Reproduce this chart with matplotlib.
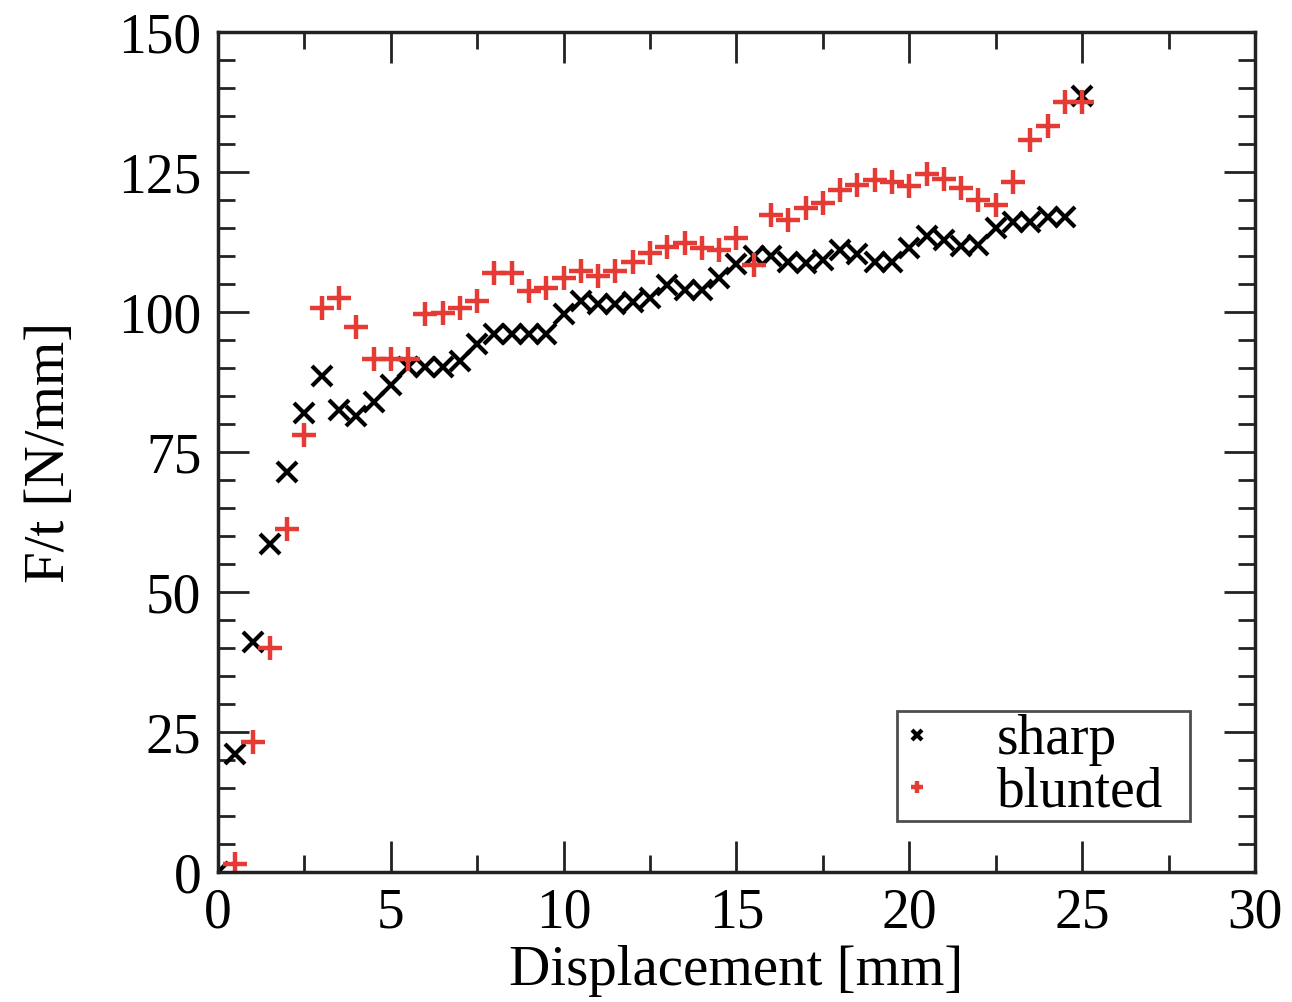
import matplotlib
matplotlib.use("Agg")
import matplotlib.pyplot as plt
from matplotlib.ticker import MultipleLocator

# Force per unit thickness versus displacement
sharp_x = [0.0, 0.5, 1.0, 1.5, 2.0, 2.5, 3.0, 3.5, 4.0, 4.5, 5.0, 5.5, 6.0, 6.5, 7.0,
           7.5, 8.0, 8.5, 9.0, 9.5, 10.0, 10.5, 11.0, 11.5, 12.0, 12.5, 13.0, 13.5,
           14.0, 14.5, 15.0, 15.5, 16.0, 16.5, 17.0, 17.5, 18.0, 18.5, 19.0, 19.5,
           20.0, 20.5, 21.0, 21.5, 22.0, 22.5, 23.0, 23.5, 24.0, 24.5, 25.0]
sharp_y = [0.0, 21.0, 41.0, 58.5, 71.5, 82.0, 88.5, 82.5, 81.5, 84.0, 87.0, 90.2, 90.2,
           90.2, 91.2, 94.3, 96.0, 96.0, 96.0, 96.0, 99.6, 102.0, 101.5, 101.5, 101.8,
           102.5, 104.8, 104.0, 104.0, 106.0, 108.5, 110.0, 110.0, 109.0, 108.8, 109.3,
           111.0, 110.3, 109.0, 109.0, 111.5, 113.5, 112.8, 111.8, 112.0, 115.0, 116.0,
           116.0, 117.0, 117.0, 138.5]

blunted_x = [0.5, 1.0, 1.5, 2.0, 2.5, 3.0, 3.5, 4.0, 4.5, 5.0, 5.5, 6.0, 6.5, 7.0,
             7.5, 8.0, 8.5, 9.0, 9.5, 10.0, 10.5, 11.0, 11.5, 12.0, 12.5, 13.0, 13.5,
             14.0, 14.5, 15.0, 15.5, 16.0, 16.5, 17.0, 17.5, 18.0, 18.5, 19.0, 19.5,
             20.0, 20.5, 21.0, 21.5, 22.0, 22.5, 23.0, 23.5, 24.0, 24.5, 25.0]
blunted_y = [1.5, 23.3, 40.0, 61.3, 78.0, 100.8, 102.5, 97.3, 91.6, 91.6, 91.6, 99.7,
             99.9, 100.8, 102.0, 107.0, 107.0, 103.8, 104.3, 106.0, 107.3, 106.4, 107.3,
             109.0, 110.5, 111.7, 112.4, 111.4, 111.1, 113.2, 108.4, 117.3, 116.4, 118.5,
             119.4, 121.8, 122.6, 123.6, 123.2, 122.5, 124.6, 123.8, 122.1, 120.0, 119.1,
             123.3, 130.7, 133.3, 137.5, 137.6]

x_ticks = [0, 5, 10, 15, 20, 25, 30]
y_ticks = [0, 25, 50, 75, 100, 125, 150]

plt.rcParams['font.family'] = ['Liberation Serif', 'DejaVu Serif']

fig = plt.figure(figsize=(12.92, 10.02), dpi=100)
ax = fig.add_axes([0.1687, 0.1297, 0.8026, 0.8383])

red = '#e63b35'
ax.plot(sharp_x, sharp_y, linestyle='none', marker='x', color='black',
        markersize=14, markeredgewidth=3.0, label='sharp', clip_on=True)
ax.plot(blunted_x, blunted_y, linestyle='none', marker='+', color=red,
        markersize=17, markeredgewidth=3.2, label='blunted', clip_on=True)

ax.set_xlim(0, 30)
ax.set_ylim(0, 150)
ax.set_xticks(x_ticks)
ax.set_yticks(y_ticks)
ax.xaxis.set_minor_locator(MultipleLocator(2.5))
ax.yaxis.set_minor_locator(MultipleLocator(5))

ax.tick_params(which='both', direction='in', top=True, right=True,
               labelsize=40, width=2.0, color='#222222')
ax.tick_params(which='major', length=22)
ax.tick_params(which='minor', length=12)
ax.tick_params(axis='x', which='major', pad=11)
ax.tick_params(axis='y', which='major', pad=12)

for s in ax.spines.values():
    s.set_linewidth(2.5)
    s.set_color('#222222')

ax.set_xlabel('Displacement [mm]', fontsize=41, labelpad=4)
ax.set_ylabel('F/t [N/mm]', fontsize=41, labelpad=30)

leg = ax.legend(loc='lower left', bbox_to_anchor=(0.655, 0.061, 0.2825, 0.127),
                mode='expand', fontsize=40,
                frameon=True, fancybox=False, shadow=False, handlelength=0.6,
                handletextpad=1.15, borderpad=0.05, labelspacing=0.0,
                markerscale=0.55, borderaxespad=0.0)
leg.get_frame().set_edgecolor('#222222')
leg.get_frame().set_linewidth(2.0)

fig.savefig('out.png', dpi=100)
